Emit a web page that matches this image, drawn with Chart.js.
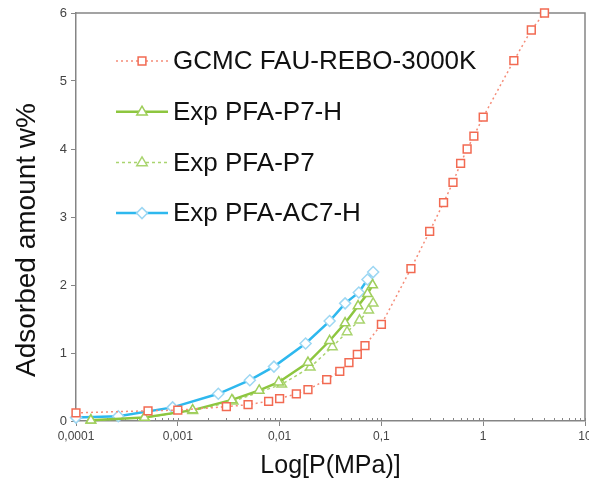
<!DOCTYPE html>
<html lang="en">
<head>
  <meta charset="UTF-8">
  <title>Adsorbed amount vs pressure</title>
  <script src="https://cdn.jsdelivr.net/npm/chart.js"></script>
  <style>
    body {
      margin: 0;
      background: #fff;
      overflow: hidden;
    }
    .chart-box {
      position: relative;
      width: 596px;
      height: 482px;
    }
  </style>
</head>
<body>
  <div class="chart-box">
    <canvas id="isoChart"></canvas>
  </div>

  <script>
    // values (pressure in MPa, amount in w%)
    const gcmcP = [0.0001, 0.00051, 0.001, 0.003, 0.0049, 0.0078, 0.01, 0.0146, 0.019, 0.029, 0.039, 0.048, 0.058, 0.069, 0.1, 0.195, 0.298, 0.408, 0.505, 0.6, 0.695, 0.81, 1.0, 2.0, 2.97, 4.0];
    const gcmcW = [0.12, 0.15, 0.16, 0.21, 0.24, 0.29, 0.33, 0.40, 0.46, 0.61, 0.73, 0.86, 0.98, 1.11, 1.42, 2.24, 2.79, 3.21, 3.51, 3.79, 4.0, 4.19, 4.47, 5.30, 5.75, 6.0];

    const p7hP = [0.00014, 0.00047, 0.0014, 0.0034, 0.0063, 0.0098, 0.019, 0.031, 0.044, 0.059, 0.073, 0.082];
    const p7hW = [0.01, 0.05, 0.16, 0.31, 0.45, 0.57, 0.86, 1.18, 1.44, 1.69, 1.87, 2.0];

    const p7P = [0.00014, 0.00047, 0.0014, 0.0035, 0.0105, 0.02, 0.033, 0.046, 0.061, 0.075, 0.083];
    const p7W = [0.01, 0.05, 0.15, 0.29, 0.54, 0.79, 1.09, 1.31, 1.48, 1.63, 1.73];

    const ac7hP = [0.0001, 0.00026, 0.00089, 0.0025, 0.0051, 0.0088, 0.018, 0.031, 0.044, 0.06, 0.073, 0.083];
    const ac7hW = [0.05, 0.07, 0.2, 0.40, 0.6, 0.8, 1.14, 1.47, 1.73, 1.89, 2.08, 2.19];

    const seriesNames = ['GCMC FAU-REBO-3000K', 'Exp PFA-P7-H', 'Exp PFA-P7', 'Exp PFA-AC7-H'];

    const xTickValues = [0.0001, 0.001, 0.01, 0.1, 1, 10];
    const xTickLabels = ['0,0001', '0,001', '0,01', '0,1', '1', '10'];
    const yTicks = [0, 1, 2, 3, 4, 5, 6];
    const yTitle = 'Adsorbed amount w%';

    const FONT = '"Liberation Sans", Arial, sans-serif';
    const AXIS_GRAY = '#858585';

    const toPoints = (xs, ys) => xs.map((x, i) => ({ x: x, y: ys[i] }));

    // legend drawn inside the plot, like the original figure
    function marker(ctx, style, x, y, r) {
      ctx.beginPath();
      if (style === 'rect') {
        const s = r * Math.SQRT1_2;
        ctx.rect(x - s, y - s, 2 * s, 2 * s);
      } else if (style === 'triangle') {
        ctx.moveTo(x, y - r);
        ctx.lineTo(x + r * 0.95, y + r * 0.6);
        ctx.lineTo(x - r * 0.95, y + r * 0.6);
        ctx.closePath();
      } else {
        ctx.moveTo(x - r, y);
        ctx.lineTo(x, y - r);
        ctx.lineTo(x + r, y);
        ctx.lineTo(x, y + r);
        ctx.closePath();
      }
      ctx.fillStyle = '#fff';
      ctx.fill();
      ctx.stroke();
    }

    const insideLegend = {
      id: 'insideLegend',
      afterDraw(chart) {
        const ctx = chart.ctx;
        chart.data.datasets.forEach((ds, i) => {
          const y = 61 + i * 50.7;
          ctx.save();
          ctx.strokeStyle = ds.borderColor;
          ctx.lineWidth = ds.borderWidth;
          ctx.setLineDash(ds.borderDash || []);
          ctx.beginPath();
          ctx.moveTo(116, y);
          ctx.lineTo(168, y);
          ctx.stroke();
          ctx.setLineDash([]);
          ctx.strokeStyle = ds.pointBorderColor;
          ctx.lineWidth = ds.pointBorderWidth;
          marker(ctx, ds.pointStyle, 142, y, ds.pointRadius);
          ctx.fillStyle = '#111';
          ctx.font = '26px ' + FONT;
          ctx.textBaseline = 'middle';
          ctx.fillText(ds.label, 173, y + 1);
          ctx.restore();
        });

        // y title sits a bit below the axis middle in the original
        ctx.save();
        ctx.translate(27, 240);
        ctx.rotate(-Math.PI / 2);
        ctx.fillStyle = '#111';
        ctx.font = '28px ' + FONT;
        ctx.textAlign = 'center';
        ctx.textBaseline = 'middle';
        ctx.fillText(yTitle, 0, 0);
        ctx.restore();
      }
    };

    // top/right frame and small inner ticks on the log axis
    const frame = {
      id: 'frame',
      beforeDatasetsDraw(chart) {
        const { ctx, chartArea: a, scales } = chart;
        ctx.save();
        ctx.strokeStyle = AXIS_GRAY;
        ctx.lineWidth = 1.5;
        ctx.beginPath();
        ctx.moveTo(a.left, a.top);
        ctx.lineTo(a.right, a.top);
        ctx.lineTo(a.right, a.bottom);
        ctx.stroke();
        ctx.lineWidth = 1;
        ctx.beginPath();
        scales.x.ticks.forEach(t => {
          const px = Math.round(scales.x.getPixelForValue(t.value)) + 0.5;
          ctx.moveTo(px, a.bottom);
          ctx.lineTo(px, a.bottom - 3);
        });
        ctx.stroke();
        ctx.restore();
      }
    };

    const common = {
      fill: false,
      tension: 0,
      clip: false,
      pointBackgroundColor: '#fff',
      pointBorderWidth: 1.5
    };

    new Chart(document.getElementById('isoChart'), {
      type: 'line',
      data: {
        datasets: [
          Object.assign({}, common, {
            label: seriesNames[0],
            data: toPoints(gcmcP, gcmcW),
            borderColor: '#f58c78',
            borderWidth: 1.5,
            borderDash: [2, 3],
            pointStyle: 'rect',
            pointRadius: 5.5,
            pointBorderColor: '#f26a52'
          }),
          Object.assign({}, common, {
            label: seriesNames[1],
            data: toPoints(p7hP, p7hW),
            borderColor: '#8dc63f',
            borderWidth: 2.5,
            pointStyle: 'triangle',
            pointRadius: 5.5,
            pointBorderColor: '#9fce5a'
          }),
          Object.assign({}, common, {
            label: seriesNames[2],
            data: toPoints(p7P, p7W),
            borderColor: '#a9d46e',
            borderWidth: 1.5,
            borderDash: [3, 3],
            pointStyle: 'triangle',
            pointRadius: 5.5,
            pointBorderColor: '#a9d46e'
          }),
          Object.assign({}, common, {
            label: seriesNames[3],
            data: toPoints(ac7hP, ac7hW),
            borderColor: '#2eb8ee',
            borderWidth: 2.5,
            pointStyle: 'rectRot',
            pointRadius: 5.5,
            pointBorderColor: '#9dd7f3'
          })
        ]
      },
      options: {
        responsive: true,
        maintainAspectRatio: false,
        animation: false,
        events: [],
        layout: { padding: { top: 13, right: 11, left: 0, bottom: 0 } },
        plugins: {
          legend: { display: false },
          tooltip: { enabled: false }
        },
        scales: {
          x: {
            type: 'logarithmic',
            min: xTickValues[0],
            max: xTickValues[xTickValues.length - 1],
            afterBuildTicks: (scale) => {
              const t = [];
              xTickValues.forEach((d, i) => {
                if (i === xTickValues.length - 1) { t.push({ value: d }); return; }
                for (let m = 1; m < 10; m++) t.push({ value: m === 1 ? d : m * d });
              });
              scale.ticks = t;
            },
            afterFit: (scale) => {
              scale.height = 61;
              scale.paddingLeft = 0;
              scale.paddingRight = 0;
            },
            border: { color: AXIS_GRAY, width: 1.5 },
            grid: {
              drawOnChartArea: false,
              tickLength: 5,
              color: (c) => xTickValues.includes(c.tick && c.tick.value) ? AXIS_GRAY : 'rgba(0,0,0,0)'
            },
            ticks: {
              autoSkip: false,
              maxRotation: 0,
              padding: 3,
              color: '#444',
              font: { family: FONT, size: 12 },
              callback: (v) => {
                const i = xTickValues.indexOf(v);
                return i >= 0 ? xTickLabels[i] : '';
              }
            },
            title: {
              display: true,
              text: 'Log[P(MPa)]',
              color: '#111',
              font: { family: FONT, size: 25 },
              padding: { top: 2, bottom: 1 }
            }
          },
          y: {
            min: yTicks[0],
            max: yTicks[yTicks.length - 1],
            afterFit: (scale) => {
              scale.width = 76;
              scale.paddingTop = 0;
              scale.paddingBottom = 0;
            },
            border: { color: AXIS_GRAY, width: 1.5 },
            grid: { drawOnChartArea: false, tickLength: 5, color: AXIS_GRAY },
            ticks: {
              stepSize: 1,
              padding: 4,
              color: '#444',
              font: { family: FONT, size: 13 }
            }
          }
        }
      },
      plugins: [frame, insideLegend]
    });
  </script>
</body>
</html>
